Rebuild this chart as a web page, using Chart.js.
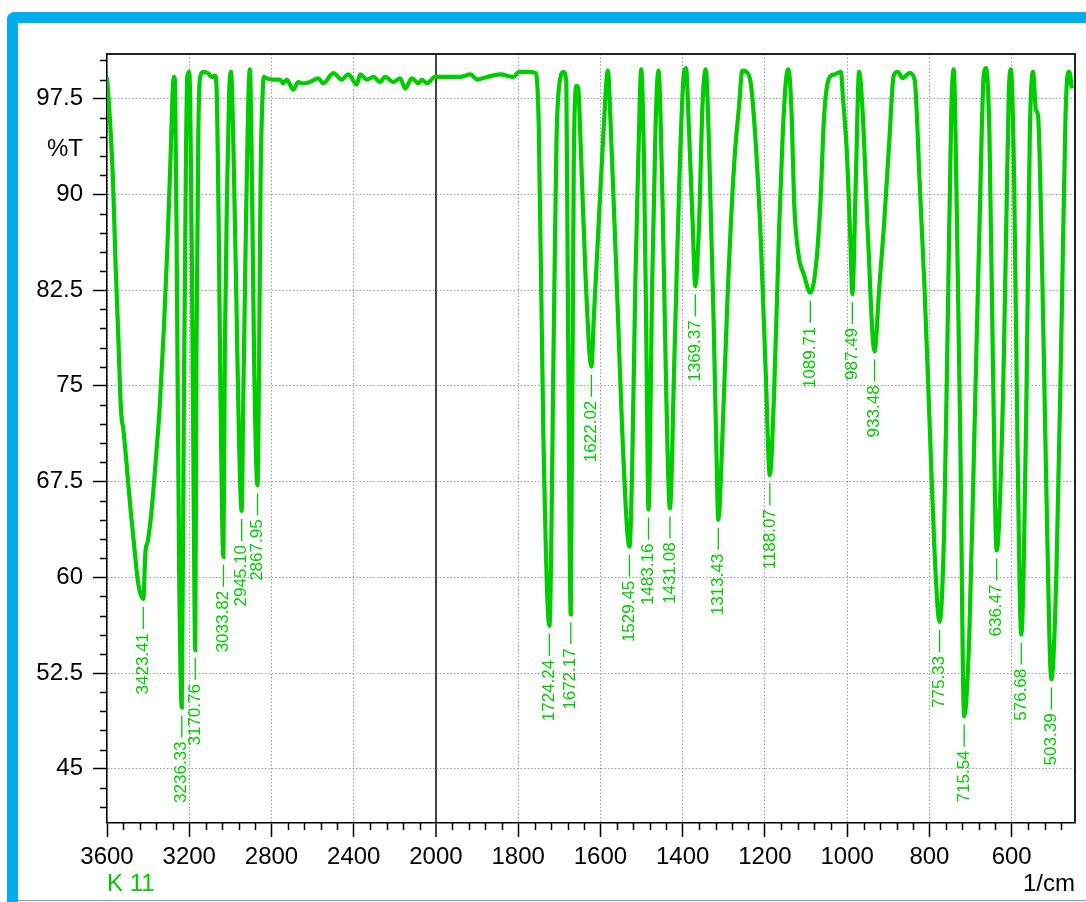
<!DOCTYPE html>
<html>
<head>
<meta charset="utf-8">
<script src="https://cdn.jsdelivr.net/npm/chart.js@4.4.1/dist/chart.umd.min.js"></script>
<style>
  body { margin: 0; background: #fff; overflow: hidden; }
  #frame { position: absolute; left: 7px; top: 12px; width: 1079px; height: 900px; box-sizing: border-box;
           border-top: 11px solid #00aeef; border-left: 11px solid #00aeef; border-top-left-radius: 8px; }
  #foot { position: absolute; left: 18px; top: 900px; width: 1068px; height: 1px; background: #4db8e6; }
  canvas { position: absolute; left: 0; top: 0; }
</style>
</head>
<body>
<div id="frame"></div>
<div id="foot"></div>
<canvas id="ir" width="1086" height="902"></canvas>
<script>
// spectrum, 1/cm descending
const waveNumbers = [
    3600, 3587, 3571, 3558, 3546, 3535, 3528, 3522, 3506, 3486, 3465, 3449, 3423.41,
    3413, 3402, 3384, 3363, 3343, 3324, 3306, 3291, 3281, 3275, 3269, 3259, 3249, 3236.33,
    3226, 3216, 3209, 3200, 3187, 3179, 3170.76, 3165, 3156, 3148, 3132, 3108, 3091, 3075,
    3067, 3057, 3048, 3033.82, 3027, 3015, 3006, 2997, 2986, 2970, 2958, 2945.10,
    2937, 2924, 2913, 2905, 2895, 2885, 2867.95, 2860, 2853, 2843, 2837,
    2824, 2791, 2759, 2743, 2726, 2694, 2670, 2645, 2613, 2572, 2548, 2499, 2458, 2426,
    2385, 2369, 2336, 2304, 2272, 2247, 2207, 2174, 2150, 2117, 2085, 2069, 2044, 2004,
    1973, 1941, 1916, 1900, 1876, 1843, 1811, 1799, 1778, 1757, 1750, 1739, 1724.24,
    1713, 1707, 1697, 1690, 1683, 1679, 1672.17, 1665, 1658, 1654, 1648, 1636, 1622.02,
    1616, 1604, 1592, 1582, 1575, 1559, 1547, 1529.45, 1523, 1515, 1506, 1501,
    1494, 1488, 1483.16, 1474, 1466, 1459, 1449, 1440, 1431.08, 1420, 1407, 1397, 1392,
    1385, 1376, 1369.37, 1360, 1352, 1344, 1336, 1325, 1318, 1313.43, 1303, 1291, 1275,
    1263, 1255, 1242, 1234, 1222, 1210, 1198, 1188.07, 1178, 1165, 1157, 1149, 1143,
    1135, 1129, 1119, 1105, 1089.71, 1076, 1065, 1056, 1044, 1031, 1015, 1011,
    1000, 992, 987.49, 979, 971, 962, 950, 933.48, 922, 910, 897, 887, 877, 865, 849, 836,
    824, 812, 800, 788, 775.33, 764, 755, 747, 741, 733, 725, 715.54, 703, 691, 678, 668, 662,
    654, 646, 636.47, 621, 613, 607, 602, 594, 586, 576.68, 564, 556, 548, 541, 536,
    526, 516, 503.39, 491, 478, 469, 462, 458, 454
];
const transmittance = [
    99.2, 96.2, 91.1, 84.4, 79.3, 74.2, 72.3, 71.8, 69.1, 65.4, 62.0, 59.6, 58.3,
    62.0, 62.8, 65.1, 69.1, 73.5, 79.3, 86.0, 92.8, 97.9, 99.2, 98.9, 81.0, 60.6, 49.8,
    74.2, 92.8, 99.3, 99.6, 84.4, 67.4, 54.3, 77.6, 94.5, 99.1, 99.6, 99.5, 99.2, 99.3,
    98.3, 87.8, 74.2, 61.6, 77.6, 91.1, 97.9, 99.6, 94.5, 81.0, 70.8, 65.2,
    74.2, 87.8, 97.2, 99.8, 91.1, 77.6, 67.2, 77.6, 91.1, 97.9, 99.2,
    99.1, 99.0, 99.0, 98.7, 99.0, 98.2, 98.8, 98.7, 98.8, 99.1, 98.7, 99.5, 99.0, 99.4,
    98.6, 99.4, 99.0, 99.2, 98.8, 99.2, 98.8, 99.1, 98.3, 99.1, 98.7, 99.0, 98.7, 99.2,
    99.2, 99.2, 99.4, 99.0, 99.2, 99.4, 99.2, 99.6, 99.6, 99.5, 95.3, 71.4, 56.2,
    80.4, 94.1, 99.2, 99.6, 98.8, 80.4, 57.1, 92.3, 98.5, 98.3, 93.8, 83.4, 76.5,
    80.4, 87.9, 95.3, 99.7, 95.3, 81.9, 71.4, 62.4, 68.4, 83.4, 95.3, 99.8,
    92.3, 77.4, 65.3, 83.4, 95.3, 99.7, 89.4, 74.4, 65.4, 77.4, 92.3, 99.5, 99.9,
    95.3, 87.9, 82.8, 87.9, 96.9, 99.8, 93.8, 80.4, 69.9, 64.5, 71.4, 81.9, 92.3,
    96.9, 99.7, 99.5, 98.6, 93.8, 86.4, 75.9, 68.0, 74.2, 87.8, 94.5, 98.9, 99.8,
    96.2, 89.4, 85.4, 83.7, 82.3, 84.4, 89.4, 96.2, 99.1, 99.4, 99.6, 97.9,
    92.8, 86.1, 82.2, 91.1, 99.6, 96.2, 87.1, 77.7, 82.7, 87.8, 94.5, 99.3, 99.6, 99.1, 99.5, 99.0,
    91.1, 82.7, 72.5, 62.3, 56.5, 64.0, 81.0, 96.2, 99.8, 87.8, 70.8, 49.1, 55.5, 70.8, 87.8, 99.3, 99.9,
    94.5, 77.6, 62.1, 74.2, 87.8, 97.9, 99.8, 91.1, 70.8, 55.5, 74.2, 94.5, 99.6, 96.6, 96.2,
    84.4, 67.4, 52.0, 60.6, 81.0, 96.2, 99.6, 99.4, 98.3
];

// labelled peaks
const peakWaves = [3423.41, 3236.33, 3170.76, 3033.82, 2945.10, 2867.95, 1724.24, 1672.17,
    1622.02, 1529.45, 1483.16, 1431.08, 1369.37, 1313.43, 1188.07, 1089.71, 987.49, 933.48,
    775.33, 715.54, 636.47, 576.68, 503.39];
const peakValues = [58.3, 49.8, 54.3, 61.6, 65.2, 67.2, 56.2, 57.1,
    76.5, 62.4, 65.3, 65.4, 82.8, 64.5, 68.0, 82.3, 82.2, 77.7,
    56.5, 49.1, 62.1, 55.5, 52.0];

const xTickLabels = [3600, 3200, 2800, 2400, 2000, 1800, 1600, 1400, 1200, 1000, 800, 600];
const yTickLabels = [45, 52.5, 60, 67.5, 75, 82.5, 90, 97.5];
const sampleName = 'K 11';
const xUnit = '1/cm';
const yUnit = '%T';

// x axis is squeezed 2x above 2000 1/cm, like the instrument printout
function toAxis(w) { return w >= 2000 ? (3600 - w) / 2 : 800 + (2000 - w); }
function fromAxis(u) { return u <= 800 ? 3600 - 2 * u : 2000 - (u - 800); }

const xMajor = xTickLabels.map(toAxis);
const isMajorX = v => xMajor.includes(v);
const isMajorY = v => yTickLabels.includes(v);

const green = '#00cc00';
const family = '"Liberation Sans", Arial, sans-serif';

const extras = {
    id: 'extras',
    afterDraw(chart) {
        const { ctx, chartArea: a, scales: { x, y } } = chart;
        ctx.save();
        // top + right frame of the plot
        ctx.strokeStyle = '#222';
        ctx.lineWidth = 2;
        ctx.beginPath();
        ctx.moveTo(a.left, a.top);
        ctx.lineTo(a.right, a.top);
        ctx.lineTo(a.right, a.bottom);
        ctx.stroke();

        // minor ticks
        ctx.strokeStyle = '#000';
        ctx.lineWidth = 1.5;
        ctx.beginPath();
        x.ticks.forEach(t => {
            if (isMajorX(t.value)) return;
            const px = Math.round(x.getPixelForValue(t.value)) + 0.5;
            ctx.moveTo(px, a.bottom);
            ctx.lineTo(px, a.bottom + 7);
        });
        y.ticks.forEach(t => {
            if (isMajorY(t.value)) return;
            const py = Math.round(y.getPixelForValue(t.value)) + 0.5;
            ctx.moveTo(a.left - 7, py);
            ctx.lineTo(a.left, py);
        });
        ctx.stroke();

        // unit and sample texts
        ctx.font = '24px ' + family;
        ctx.fillStyle = '#000';
        ctx.textAlign = 'right';
        ctx.textBaseline = 'middle';
        ctx.fillText(yUnit, a.left - 24, y.getPixelForValue(93.5));
        ctx.fillText(xUnit, a.right, 884);
        ctx.fillStyle = green;
        ctx.textAlign = 'left';
        ctx.fillText(sampleName, a.left, 884);
        ctx.restore();
    },
    afterDatasetsDraw(chart) {
        const { ctx, scales: { x, y } } = chart;
        ctx.save();
        ctx.fillStyle = green;
        ctx.strokeStyle = green;
        ctx.lineWidth = 1.3;
        ctx.font = '17px ' + family;
        peakWaves.forEach((w, i) => {
            const px = x.getPixelForValue(toAxis(w));
            const py = y.getPixelForValue(peakValues[i]);
            ctx.beginPath();
            ctx.moveTo(px, py + 8);
            ctx.lineTo(px, py + 30);
            ctx.stroke();
            ctx.save();
            ctx.translate(px, py + 34);
            ctx.rotate(-Math.PI / 2);
            ctx.textAlign = 'right';
            ctx.textBaseline = 'middle';
            ctx.fillText(w.toFixed(2), 0, 0);
            ctx.restore();
        });
        ctx.restore();
    }
};

const irChart = new Chart(document.getElementById('ir'), {
    type: 'line',
    data: {
        datasets: [{
            data: waveNumbers.map((w, i) => ({ x: toAxis(w), y: transmittance[i] })),
            borderColor: green,
            borderWidth: 4.2,
            pointRadius: 0,
            cubicInterpolationMode: 'monotone',
            fill: false
        }]
    },
    options: {
        responsive: false,
        animation: false,
        devicePixelRatio: 1,
        layout: { padding: { top: 54, right: 11, left: 0, bottom: 0 } },
        plugins: { legend: { display: false }, tooltip: { enabled: false } },
        scales: {
            x: {
                type: 'linear',
                min: 0,
                max: toAxis(446),
                afterBuildTicks: s => {
                    const t = [];
                    for (let u = 0; u <= s.max; u += 40) t.push({ value: u });
                    s.ticks = t;
                },
                afterFit: s => { s.height = 79; },
                ticks: {
                    autoSkip: false, maxRotation: 0, minRotation: 0, padding: 6,
                    color: '#000', font: { family: family, size: 24 },
                    callback: v => isMajorX(v) ? String(fromAxis(v)) : ''
                },
                grid: {
                    color: c => (c.tick && c.tick.value === 800) ? '#444' : '#999',
                    lineWidth: c => !c.tick ? 1 : (c.tick.value === 800 ? 2 : (isMajorX(c.tick.value) ? 1 : 0)),
                    tickLength: 14,
                    tickColor: '#000',
                    tickWidth: c => (c.tick && isMajorX(c.tick.value)) ? 1.5 : 0
                },
                border: {
                    color: '#000', width: 1.5,
                    dash: c => (c.tick && c.tick.value === 800) ? [] : [1.5, 2]
                }
            },
            y: {
                type: 'linear',
                min: 40.75,
                max: 101,
                afterBuildTicks: s => {
                    const t = [];
                    for (let k = 28; k <= 67; k++) t.push({ value: k * 1.5 });
                    s.ticks = t;
                },
                afterFit: s => { s.width = 107; },
                ticks: {
                    autoSkip: false, padding: 10,
                    color: '#000', font: { family: family, size: 24 },
                    callback: v => isMajorY(v) ? String(v) : ''
                },
                grid: {
                    color: '#999',
                    lineWidth: c => (c.tick && !isMajorY(c.tick.value)) ? 0 : 1,
                    tickLength: 14,
                    tickColor: '#000',
                    tickWidth: c => (c.tick && isMajorY(c.tick.value)) ? 1.5 : 0
                },
                border: { color: '#000', width: 1.5, dash: [1.5, 2] }
            }
        }
    },
    plugins: [extras]
});
</script>
</body>
</html>
